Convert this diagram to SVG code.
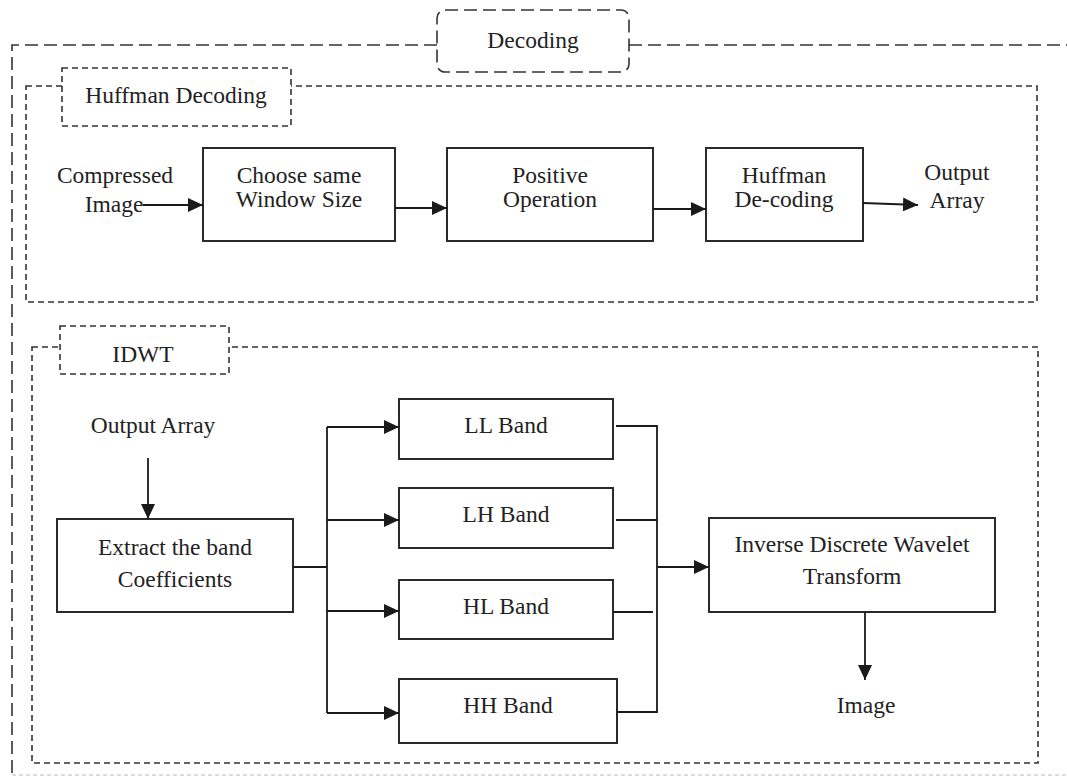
<svg xmlns="http://www.w3.org/2000/svg" width="1067" height="777" viewBox="0 0 1067 777" font-family="Liberation Serif, DejaVu Serif, serif">
  <defs>
    <marker id="arrow" markerWidth="16" markerHeight="14" refX="15" refY="7" orient="auto" markerUnits="userSpaceOnUse">
      <path d="M0,0 L15,7 L0,14 Z" fill="#1a1a1a"/>
    </marker>
    <style>
      text { font-family: 'Liberation Serif', 'DejaVu Serif', serif; font-size: 23.5px; fill: #222; text-anchor: middle; }
      .box { fill: #fff; stroke: #2a2a2a; stroke-width: 2; }
      .frame-outer { fill: none; stroke: #333; stroke-width: 1.6; stroke-dasharray: 13 6; }
      .frame { fill: none; stroke: #333; stroke-width: 1.6; stroke-dasharray: 6 4; }
      .tag { fill: #fff; stroke: #333; stroke-width: 1.6; stroke-dasharray: 6 4; }
      .tag-outer { fill: #fff; stroke: #333; stroke-width: 1.6; stroke-dasharray: 13 6; }
      .wire { fill: none; stroke: #1a1a1a; stroke-width: 1.8; }
      .arrow { fill: none; stroke: #1a1a1a; stroke-width: 1.8; marker-end: url(#arrow); }
    </style>
  </defs>
  <rect width="1067" height="777" fill="#fff"/>

  <!-- Outer decoding frame -->
  <g id="decoding-frame">
    <path class="frame-outer" d="M437,45 H12 V777"/>
    <path class="frame-outer" d="M629,45 H1067"/>
    <path d="M12,775 H1067" fill="none" stroke="#bbb" stroke-width="1" stroke-dasharray="4 3"/>
    <rect class="tag-outer" x="437" y="10" width="192" height="62" rx="8"/>
    <text x="533" y="48">Decoding</text>
  </g>

  <!-- Huffman decoding section -->
  <g id="huffman-frame">
    <rect class="frame" x="26" y="86" width="1011" height="216"/>
    <rect class="tag" x="62" y="68" width="229" height="58"/>
    <text x="176" y="103">Huffman Decoding</text>
  </g>

  <g id="compressed-image">
    <text x="115" y="183">Compressed</text>
    <text x="114" y="212">Image</text>
  </g>

  <g id="choose-window">
    <rect class="box" x="203" y="148" width="192" height="93"/>
    <text x="299" y="183">Choose same</text>
    <text x="299" y="207">Window Size</text>
  </g>

  <g id="positive-operation">
    <rect class="box" x="447" y="148" width="206" height="93"/>
    <text x="550" y="183">Positive</text>
    <text x="550" y="207">Operation</text>
  </g>

  <g id="huffman-decode">
    <rect class="box" x="706" y="148" width="157" height="93"/>
    <text x="784" y="183">Huffman</text>
    <text x="784" y="207">De-coding</text>
  </g>

  <g id="output-array-top">
    <text x="957" y="180">Output</text>
    <text x="957" y="208">Array</text>
  </g>

  <!-- IDWT section -->
  <g id="idwt-frame">
    <rect class="frame" x="32" y="347" width="1006" height="416"/>
    <rect class="tag" x="60" y="326" width="169" height="48"/>
    <text x="143" y="362">IDWT</text>
  </g>

  <g id="output-array-in">
    <text x="153" y="433">Output Array</text>
  </g>

  <g id="extract-band">
    <rect class="box" x="57" y="519" width="236" height="93"/>
    <text x="175" y="555">Extract the band</text>
    <text x="175" y="587">Coefficients</text>
  </g>

  <g id="ll-band">
    <rect class="box" x="399" y="399" width="214" height="60"/>
    <text x="506" y="433">LL Band</text>
  </g>
  <g id="lh-band">
    <rect class="box" x="399" y="488" width="214" height="60"/>
    <text x="506" y="522">LH Band</text>
  </g>
  <g id="hl-band">
    <rect class="box" x="399" y="580" width="214" height="59"/>
    <text x="506" y="614">HL Band</text>
  </g>
  <g id="hh-band">
    <rect class="box" x="399" y="679" width="218" height="64"/>
    <text x="508" y="713">HH Band</text>
  </g>

  <g id="idwt-transform">
    <rect class="box" x="709" y="518" width="286" height="94"/>
    <text x="852" y="552">Inverse Discrete Wavelet</text>
    <text x="852" y="584">Transform</text>
  </g>

  <g id="image-out">
    <text x="866" y="713">Image</text>
  </g>

  <!-- Connectors -->
  <g id="connectors">
    <line class="arrow" x1="143" y1="205" x2="203" y2="205"/>
    <line class="arrow" x1="395" y1="208" x2="447" y2="208"/>
    <line class="arrow" x1="653" y1="209" x2="706" y2="209"/>
    <line class="arrow" x1="863" y1="203" x2="918" y2="205"/>

    <line class="arrow" x1="148" y1="458" x2="148" y2="519"/>

    <path class="wire" d="M293,567 H327"/>
    <path class="wire" d="M327,427 V713"/>
    <line class="arrow" x1="327" y1="427" x2="399" y2="427"/>
    <line class="arrow" x1="327" y1="520" x2="399" y2="520"/>
    <line class="arrow" x1="327" y1="611" x2="399" y2="611"/>
    <line class="arrow" x1="327" y1="713" x2="399" y2="713"/>

    <path class="wire" d="M616,426 H657 V712 H617"/>
    <path class="wire" d="M616,520 H657"/>
    <path class="wire" d="M613,612 H653"/>
    <line class="arrow" x1="657" y1="567" x2="709" y2="567"/>

    <line class="arrow" x1="865" y1="612" x2="865" y2="680"/>
  </g>
</svg>
